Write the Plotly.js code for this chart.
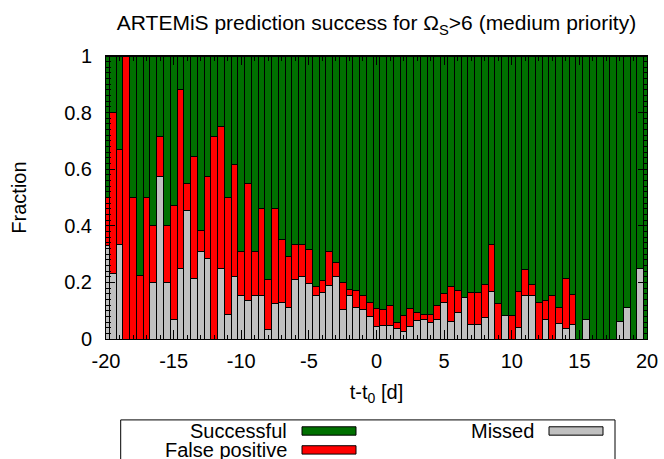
<!DOCTYPE html>
<html>
<head>
<meta charset="utf-8">
<script src="https://cdn.plot.ly/plotly-3.0.1.min.js"></script>
<style>html,body{margin:0;padding:0;background:#fff;}#plot{width:664px;height:459px;}</style>
</head>
<body>
<div id="plot"></div>
<script>
// Bin centres (days, t - t0)
var days = [-20,-19.5,-19,-18.5,-18,-17.5,-17,-16.5,-16,-15.5,-15,-14.5,-14,-13.5,-13,-12.5,-12,-11.5,-11,-10.5,
  -10,-9.5,-9,-8.5,-8,-7.5,-7,-6.5,-6,-5.5,-5,-4.5,-4,-3.5,-3,-2.5,-2,-1.5,-1,-0.5,
  0,0.5,1,1.5,2,2.5,3,3.5,4,4.5,5,5.5,6,6.5,7,7.5,8,8.5,9,9.5,
  10,10.5,11,11.5,12,12.5,13,13.5,14,14.5,15,15.5,16,16.5,17,17.5,18,18.5,19,19.5,20];

// Fraction missed (grey, bottom of stack)
var missed = [0.33,0.23,0.335,0,0,0,0,0.20,0.575,0.20,0.07,0.25,0.455,0.215,0.31,0.285,0,0.25,0.085,0.22,
  0.155,0.135,0.155,0.155,0.035,0.125,0.13,0.11,0.21,0.22,0.195,0.155,0.165,0.19,0.22,0.105,0.155,0.11,0.105,0.078,
  0.043,0.048,0.048,0.036,0.028,0.044,0.064,0.069,0.057,0.069,0.13,0.061,0.093,0.147,0.053,0.053,0.077,0.167,0,0.084,
  0,0.042,0.152,0.154,0,0.068,0,0.056,0.036,0.053,0,0.068,0,0,0,0,0.063,0.112,0,0.25,0];

// Fraction false positive (red, middle of stack)
var falsePositive = [0.17,0.57,0.335,1.0,0.50,0.225,0.50,0.20,0.14,0.20,0.40,0.63,0.095,0.43,0.075,0.29,0.715,0.50,0.415,0.395,
  0.155,0.415,0.155,0.305,0.175,0.335,0.22,0.18,0.125,0.115,0.12,0.03,0.04,0.12,0.05,0.095,0.02,0.06,0.05,0.052,
  0.065,0.058,0.072,0.021,0.054,0.063,0.028,0.017,0.028,0.051,0.03,0.123,0.08,0,0.11,0.11,0.116,0.168,0.125,0,
  0.084,0.125,0.092,0.039,0.128,0.068,0.154,0.055,0.179,0.106,0,0,0,0,0,0,0,0,0,0,0];

// Fraction successful (green, top of stack)
var successful = [0.50,0.20,0.33,0,0.50,0.775,0.50,0.60,0.285,0.60,0.53,0.12,0.45,0.355,0.615,0.425,0.285,0.25,0.50,0.385,
  0.69,0.45,0.69,0.54,0.79,0.54,0.65,0.71,0.665,0.665,0.685,0.815,0.795,0.69,0.73,0.80,0.825,0.83,0.845,0.87,
  0.892,0.894,0.88,0.943,0.918,0.893,0.908,0.914,0.915,0.88,0.84,0.816,0.827,0.853,0.837,0.837,0.807,0.665,0.875,0.916,
  0.916,0.833,0.756,0.807,0.872,0.864,0.846,0.889,0.785,0.841,1,0.932,1,1,1,1,0.937,0.888,1,0.75,1];

var xTickVals = [-20,-15,-10,-5,0,5,10,15,20];
var xTickText = ['-20','-15','-10','-5','0','5','10','15','20'];
var yTickVals = [0,0.2,0.4,0.6,0.8,1];
var yTickText = ['0','0.2','0.4','0.6','0.8','1'];

var seriesNames = ['Missed','False positive','Successful'];
var seriesColors = ['#c0c0c0','#ff0000','#007000'];

var FONT = 'Liberation Sans, Arial, Helvetica, sans-serif';
var FS = 20;
var lineStyle = {color:'#000000', width:1};

var traces = [missed, falsePositive, successful].map(function(vals, i){
  return {
    type:'bar', x:days, y:vals, name:seriesNames[i], width:0.5,
    marker:{color:seriesColors[i], line:lineStyle},
    showlegend:false, hoverinfo:'skip'
  };
});

// Legend drawn in gnuplot style (text right-aligned, swatch to the right)
var L = 106, R = 647, T = 55.5, B = 339.5;
function px(x){ return (x - L) / (R - L); }
function py(y){ return (B - y) / (B - T); }

var legendEntries = [
  {name:'Successful', color:seriesColors[2], textRight:289, sx0:302, sx1:356, cy:431.8},
  {name:'False positive', color:seriesColors[1], textRight:289, sx0:302, sx1:356, cy:450.8},
  {name:'Missed', color:seriesColors[0], textRight:536, sx0:549, sx1:603, cy:431.8}
];

var shapes = [{
  type:'rect', xref:'paper', yref:'paper',
  x0:px(120.7), x1:px(615), y0:py(420.7), y1:py(520),
  line:{color:'#000', width:1}, fillcolor:'rgba(0,0,0,0)', layer:'above'
}];
var annotations = [];
legendEntries.forEach(function(e){
  shapes.push({type:'rect', xref:'paper', yref:'paper',
    x0:px(e.sx0), x1:px(e.sx1), y0:py(e.cy-4.2), y1:py(e.cy+4.2),
    line:{color:'#000', width:1}, fillcolor:e.color, layer:'above'});
  annotations.push({xref:'paper', yref:'paper', x:px(e.textRight), y:py(e.cy),
    xanchor:'right', yanchor:'middle', showarrow:false, text:e.name,
    font:{family:FONT, size:FS, color:'#000'}});
});

var layout = {
  width:664, height:459,
  margin:{l:L, r:664-R, t:T, b:459-B},
  paper_bgcolor:'#fff', plot_bgcolor:'#fff',
  barmode:'stack', bargap:0,
  font:{family:FONT, size:FS, color:'#000'},
  title:{text:'ARTEMiS prediction success for Ω<sub>S</sub>>6 (medium priority)',
    x:0.5, xref:'paper', xanchor:'center', y:1-23/459, yref:'container', yanchor:'middle',
    font:{family:FONT, size:21, color:'#000'}},
  xaxis:{range:[-20,20], tickvals:xTickVals, ticktext:xTickText,
    ticks:'inside', ticklen:9, tickwidth:1, tickcolor:'#000', ticklabelstandoff:4,
    minor:{dtick:1, tick0:0, ticks:'inside', ticklen:4.5, tickcolor:'#000', tickwidth:1},
    showline:true, linecolor:'#000', linewidth:1, mirror:'ticks',
    showgrid:false, zeroline:false, layer:'above traces',
    tickfont:{family:FONT, size:FS, color:'#000'},
    title:{text:'t-t<sub>0</sub> [d]', font:{family:FONT, size:FS, color:'#000'}, standoff:13}},
  yaxis:{range:[0,1], tickvals:yTickVals, ticktext:yTickText,
    ticks:'inside', ticklen:9, tickwidth:1, tickcolor:'#000', ticklabelstandoff:9,
    minor:{dtick:0.02, tick0:0, ticks:'inside', ticklen:4.5, tickcolor:'#000', tickwidth:1},
    showline:true, linecolor:'#000', linewidth:1, mirror:'ticks',
    showgrid:false, zeroline:false, layer:'above traces',
    tickfont:{family:FONT, size:FS, color:'#000'},
    title:{text:'Fraction', font:{family:FONT, size:FS, color:'#000'}, standoff:32}},
  shapes:shapes, annotations:annotations
};

Plotly.newPlot('plot', traces, layout, {staticPlot:true, displayModeBar:false});
</script>
</body>
</html>
